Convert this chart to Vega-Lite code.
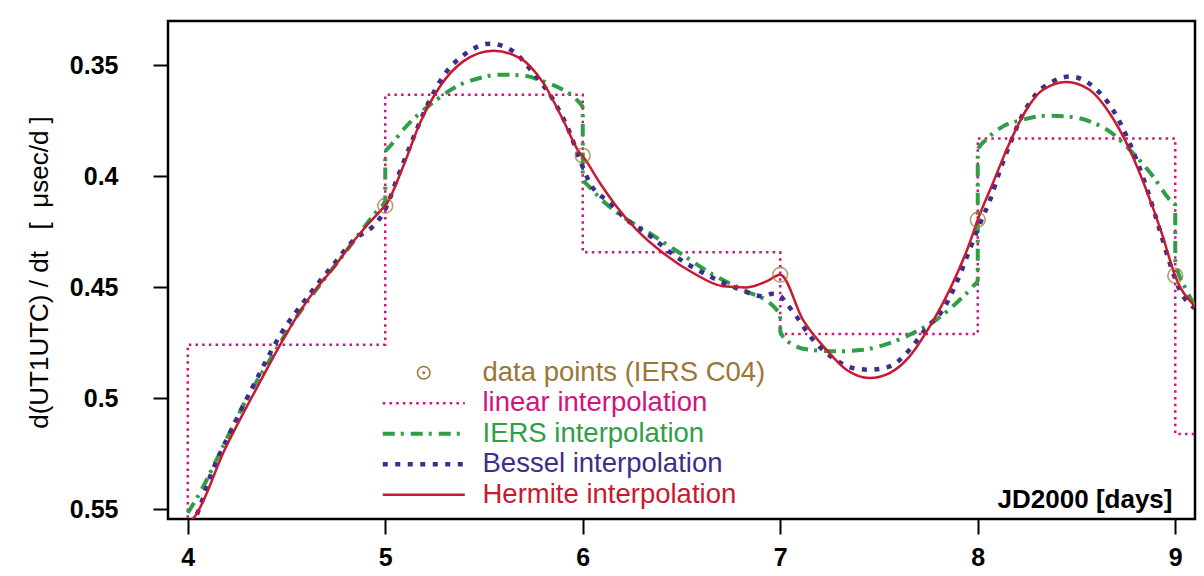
{
  "$schema": "https://vega.github.io/schema/vega-lite/v6.json",
  "autosize": {"type": "none"},
  "padding": {"left": 168, "top": 21, "right": 9, "bottom": 57},
  "width": 1027,
  "height": 498,
  "background": "white",
  "config": {
    "view": {"stroke": "black", "strokeWidth": 2.5},
    "font": "Liberation Sans"
  },
  "datasets": {
    "curves": [
      {"s": "linear interpolation", "k": 0, "t": 4, "v": 0.56},
      {"s": "linear interpolation", "k": 1, "t": 4, "v": 0.4759},
      {"s": "linear interpolation", "k": 2, "t": 5, "v": 0.4759},
      {"s": "linear interpolation", "k": 3, "t": 5, "v": 0.3632},
      {"s": "linear interpolation", "k": 4, "t": 6, "v": 0.3632},
      {"s": "linear interpolation", "k": 5, "t": 6, "v": 0.4343},
      {"s": "linear interpolation", "k": 6, "t": 7, "v": 0.4343},
      {"s": "linear interpolation", "k": 7, "t": 7, "v": 0.4711},
      {"s": "linear interpolation", "k": 8, "t": 8, "v": 0.4711},
      {"s": "linear interpolation", "k": 9, "t": 8, "v": 0.383},
      {"s": "linear interpolation", "k": 10, "t": 9, "v": 0.383},
      {"s": "linear interpolation", "k": 11, "t": 9, "v": 0.5162},
      {"s": "linear interpolation", "k": 12, "t": 9.1, "v": 0.5162},

      {"s": "IERS interpolation", "k": 0, "t": 4.0, "v": 0.5518},
      {"s": "IERS interpolation", "k": 1, "t": 4.07, "v": 0.5413},
      {"s": "IERS interpolation", "k": 2, "t": 4.17, "v": 0.5233},
      {"s": "IERS interpolation", "k": 3, "t": 4.305, "v": 0.4992},
      {"s": "IERS interpolation", "k": 4, "t": 4.406, "v": 0.4842},
      {"s": "IERS interpolation", "k": 5, "t": 4.541, "v": 0.4647},
      {"s": "IERS interpolation", "k": 6, "t": 4.676, "v": 0.4481},
      {"s": "IERS interpolation", "k": 7, "t": 4.795, "v": 0.4346},
      {"s": "IERS interpolation", "k": 8, "t": 4.896, "v": 0.4226},
      {"s": "IERS interpolation", "k": 9, "t": 4.963, "v": 0.4151},
      {"s": "IERS interpolation", "k": 10, "t": 5.0, "v": 0.411},
      {"s": "IERS interpolation", "k": 11, "t": 5.0, "v": 0.389},
      {"s": "IERS interpolation", "k": 12, "t": 5.024, "v": 0.3865},
      {"s": "IERS interpolation", "k": 13, "t": 5.091, "v": 0.379},
      {"s": "IERS interpolation", "k": 14, "t": 5.176, "v": 0.3715},
      {"s": "IERS interpolation", "k": 15, "t": 5.26, "v": 0.3655},
      {"s": "IERS interpolation", "k": 16, "t": 5.361, "v": 0.3595},
      {"s": "IERS interpolation", "k": 17, "t": 5.479, "v": 0.3557},
      {"s": "IERS interpolation", "k": 18, "t": 5.58, "v": 0.3542},
      {"s": "IERS interpolation", "k": 19, "t": 5.698, "v": 0.3546},
      {"s": "IERS interpolation", "k": 20, "t": 5.8, "v": 0.3572},
      {"s": "IERS interpolation", "k": 21, "t": 5.9, "v": 0.361},
      {"s": "IERS interpolation", "k": 22, "t": 5.969, "v": 0.3655},
      {"s": "IERS interpolation", "k": 23, "t": 6.0, "v": 0.369},
      {"s": "IERS interpolation", "k": 24, "t": 6.0, "v": 0.401},
      {"s": "IERS interpolation", "k": 25, "t": 6.036, "v": 0.405},
      {"s": "IERS interpolation", "k": 26, "t": 6.087, "v": 0.4098},
      {"s": "IERS interpolation", "k": 27, "t": 6.188, "v": 0.4173},
      {"s": "IERS interpolation", "k": 28, "t": 6.323, "v": 0.4248},
      {"s": "IERS interpolation", "k": 29, "t": 6.492, "v": 0.4346},
      {"s": "IERS interpolation", "k": 30, "t": 6.66, "v": 0.4444},
      {"s": "IERS interpolation", "k": 31, "t": 6.829, "v": 0.4519},
      {"s": "IERS interpolation", "k": 32, "t": 6.947, "v": 0.4571},
      {"s": "IERS interpolation", "k": 33, "t": 6.98, "v": 0.46},
      {"s": "IERS interpolation", "k": 34, "t": 7.0, "v": 0.4625},
      {"s": "IERS interpolation", "k": 35, "t": 7.0, "v": 0.47},
      {"s": "IERS interpolation", "k": 36, "t": 7.05, "v": 0.4752},
      {"s": "IERS interpolation", "k": 37, "t": 7.149, "v": 0.4782},
      {"s": "IERS interpolation", "k": 38, "t": 7.284, "v": 0.4789},
      {"s": "IERS interpolation", "k": 39, "t": 7.42, "v": 0.4782},
      {"s": "IERS interpolation", "k": 40, "t": 7.554, "v": 0.4752},
      {"s": "IERS interpolation", "k": 41, "t": 7.672, "v": 0.4707},
      {"s": "IERS interpolation", "k": 42, "t": 7.79, "v": 0.4647},
      {"s": "IERS interpolation", "k": 43, "t": 7.892, "v": 0.4571},
      {"s": "IERS interpolation", "k": 44, "t": 7.976, "v": 0.4496},
      {"s": "IERS interpolation", "k": 45, "t": 8.0, "v": 0.447},
      {"s": "IERS interpolation", "k": 46, "t": 8.0, "v": 0.388},
      {"s": "IERS interpolation", "k": 47, "t": 8.043, "v": 0.3835},
      {"s": "IERS interpolation", "k": 48, "t": 8.128, "v": 0.3775},
      {"s": "IERS interpolation", "k": 49, "t": 8.229, "v": 0.3745},
      {"s": "IERS interpolation", "k": 50, "t": 8.347, "v": 0.3727},
      {"s": "IERS interpolation", "k": 51, "t": 8.448, "v": 0.373},
      {"s": "IERS interpolation", "k": 52, "t": 8.566, "v": 0.3752},
      {"s": "IERS interpolation", "k": 53, "t": 8.667, "v": 0.3798},
      {"s": "IERS interpolation", "k": 54, "t": 8.785, "v": 0.3895},
      {"s": "IERS interpolation", "k": 55, "t": 8.887, "v": 0.4},
      {"s": "IERS interpolation", "k": 56, "t": 8.972, "v": 0.4106},
      {"s": "IERS interpolation", "k": 57, "t": 9.0, "v": 0.413},
      {"s": "IERS interpolation", "k": 58, "t": 9.0, "v": 0.438},
      {"s": "IERS interpolation", "k": 59, "t": 9.055, "v": 0.4511},
      {"s": "IERS interpolation", "k": 60, "t": 9.1, "v": 0.4585},

      {"s": "Bessel interpolation", "k": 0, "t": 4.0, "v": 0.556},
      {"s": "Bessel interpolation", "k": 1, "t": 4.035, "v": 0.554},
      {"s": "Bessel interpolation", "k": 2, "t": 4.12, "v": 0.5338},
      {"s": "Bessel interpolation", "k": 3, "t": 4.238, "v": 0.5112},
      {"s": "Bessel interpolation", "k": 4, "t": 4.356, "v": 0.4902},
      {"s": "Bessel interpolation", "k": 5, "t": 4.474, "v": 0.4707},
      {"s": "Bessel interpolation", "k": 6, "t": 4.609, "v": 0.4541},
      {"s": "Bessel interpolation", "k": 7, "t": 4.744, "v": 0.4391},
      {"s": "Bessel interpolation", "k": 8, "t": 4.862, "v": 0.4271},
      {"s": "Bessel interpolation", "k": 9, "t": 4.9, "v": 0.4252},
      {"s": "Bessel interpolation", "k": 10, "t": 4.96, "v": 0.4205},
      {"s": "Bessel interpolation", "k": 11, "t": 5.007, "v": 0.4136},
      {"s": "Bessel interpolation", "k": 12, "t": 5.058, "v": 0.4015},
      {"s": "Bessel interpolation", "k": 13, "t": 5.125, "v": 0.3865},
      {"s": "Bessel interpolation", "k": 14, "t": 5.21, "v": 0.3685},
      {"s": "Bessel interpolation", "k": 15, "t": 5.293, "v": 0.355},
      {"s": "Bessel interpolation", "k": 16, "t": 5.412, "v": 0.3444},
      {"s": "Bessel interpolation", "k": 17, "t": 5.53, "v": 0.3402},
      {"s": "Bessel interpolation", "k": 18, "t": 5.648, "v": 0.3437},
      {"s": "Bessel interpolation", "k": 19, "t": 5.749, "v": 0.3534},
      {"s": "Bessel interpolation", "k": 20, "t": 5.85, "v": 0.3655},
      {"s": "Bessel interpolation", "k": 21, "t": 5.935, "v": 0.3805},
      {"s": "Bessel interpolation", "k": 22, "t": 5.985, "v": 0.3925},
      {"s": "Bessel interpolation", "k": 23, "t": 6.036, "v": 0.403},
      {"s": "Bessel interpolation", "k": 24, "t": 6.137, "v": 0.412},
      {"s": "Bessel interpolation", "k": 25, "t": 6.222, "v": 0.4196},
      {"s": "Bessel interpolation", "k": 26, "t": 6.323, "v": 0.4256},
      {"s": "Bessel interpolation", "k": 27, "t": 6.458, "v": 0.4353},
      {"s": "Bessel interpolation", "k": 28, "t": 6.627, "v": 0.4444},
      {"s": "Bessel interpolation", "k": 29, "t": 6.778, "v": 0.4504},
      {"s": "Bessel interpolation", "k": 30, "t": 6.913, "v": 0.4541},
      {"s": "Bessel interpolation", "k": 31, "t": 6.96, "v": 0.453},
      {"s": "Bessel interpolation", "k": 32, "t": 7.0, "v": 0.454},
      {"s": "Bessel interpolation", "k": 33, "t": 7.03, "v": 0.4571},
      {"s": "Bessel interpolation", "k": 34, "t": 7.082, "v": 0.4632},
      {"s": "Bessel interpolation", "k": 35, "t": 7.166, "v": 0.4737},
      {"s": "Bessel interpolation", "k": 36, "t": 7.267, "v": 0.4819},
      {"s": "Bessel interpolation", "k": 37, "t": 7.368, "v": 0.4864},
      {"s": "Bessel interpolation", "k": 38, "t": 7.453, "v": 0.4872},
      {"s": "Bessel interpolation", "k": 39, "t": 7.554, "v": 0.4857},
      {"s": "Bessel interpolation", "k": 40, "t": 7.655, "v": 0.4782},
      {"s": "Bessel interpolation", "k": 41, "t": 7.74, "v": 0.4684},
      {"s": "Bessel interpolation", "k": 42, "t": 7.824, "v": 0.4601},
      {"s": "Bessel interpolation", "k": 43, "t": 7.892, "v": 0.4481},
      {"s": "Bessel interpolation", "k": 44, "t": 7.959, "v": 0.4331},
      {"s": "Bessel interpolation", "k": 45, "t": 8.013, "v": 0.421},
      {"s": "Bessel interpolation", "k": 46, "t": 8.063, "v": 0.4105},
      {"s": "Bessel interpolation", "k": 47, "t": 8.114, "v": 0.397},
      {"s": "Bessel interpolation", "k": 48, "t": 8.165, "v": 0.385},
      {"s": "Bessel interpolation", "k": 49, "t": 8.232, "v": 0.3715},
      {"s": "Bessel interpolation", "k": 50, "t": 8.3, "v": 0.3624},
      {"s": "Bessel interpolation", "k": 51, "t": 8.367, "v": 0.3579},
      {"s": "Bessel interpolation", "k": 52, "t": 8.468, "v": 0.355},
      {"s": "Bessel interpolation", "k": 53, "t": 8.583, "v": 0.3595},
      {"s": "Bessel interpolation", "k": 54, "t": 8.684, "v": 0.37},
      {"s": "Bessel interpolation", "k": 55, "t": 8.769, "v": 0.385},
      {"s": "Bessel interpolation", "k": 56, "t": 8.853, "v": 0.4046},
      {"s": "Bessel interpolation", "k": 57, "t": 8.921, "v": 0.4241},
      {"s": "Bessel interpolation", "k": 58, "t": 8.972, "v": 0.4391},
      {"s": "Bessel interpolation", "k": 59, "t": 9.022, "v": 0.4511},
      {"s": "Bessel interpolation", "k": 60, "t": 9.1, "v": 0.4595},

      {"s": "Hermite interpolation", "k": 0, "t": 4.0, "v": 0.5565},
      {"s": "Hermite interpolation", "k": 1, "t": 4.03, "v": 0.554},
      {"s": "Hermite interpolation", "k": 2, "t": 4.187, "v": 0.5233},
      {"s": "Hermite interpolation", "k": 3, "t": 4.372, "v": 0.4917},
      {"s": "Hermite interpolation", "k": 4, "t": 4.482, "v": 0.4737},
      {"s": "Hermite interpolation", "k": 5, "t": 4.609, "v": 0.4556},
      {"s": "Hermite interpolation", "k": 6, "t": 4.744, "v": 0.4406},
      {"s": "Hermite interpolation", "k": 7, "t": 4.845, "v": 0.4286},
      {"s": "Hermite interpolation", "k": 8, "t": 4.98, "v": 0.4151},
      {"s": "Hermite interpolation", "k": 9, "t": 5.0, "v": 0.4133},
      {"s": "Hermite interpolation", "k": 10, "t": 5.091, "v": 0.3955},
      {"s": "Hermite interpolation", "k": 11, "t": 5.176, "v": 0.376},
      {"s": "Hermite interpolation", "k": 12, "t": 5.277, "v": 0.3595},
      {"s": "Hermite interpolation", "k": 13, "t": 5.395, "v": 0.3482},
      {"s": "Hermite interpolation", "k": 14, "t": 5.547, "v": 0.3434},
      {"s": "Hermite interpolation", "k": 15, "t": 5.682, "v": 0.3467},
      {"s": "Hermite interpolation", "k": 16, "t": 5.8, "v": 0.3579},
      {"s": "Hermite interpolation", "k": 17, "t": 5.9, "v": 0.3745},
      {"s": "Hermite interpolation", "k": 18, "t": 5.985, "v": 0.3895},
      {"s": "Hermite interpolation", "k": 19, "t": 6.0, "v": 0.391},
      {"s": "Hermite interpolation", "k": 20, "t": 6.087, "v": 0.403},
      {"s": "Hermite interpolation", "k": 21, "t": 6.171, "v": 0.4136},
      {"s": "Hermite interpolation", "k": 22, "t": 6.272, "v": 0.4241},
      {"s": "Hermite interpolation", "k": 23, "t": 6.407, "v": 0.4346},
      {"s": "Hermite interpolation", "k": 24, "t": 6.559, "v": 0.4436},
      {"s": "Hermite interpolation", "k": 25, "t": 6.711, "v": 0.4496},
      {"s": "Hermite interpolation", "k": 26, "t": 6.829, "v": 0.4501},
      {"s": "Hermite interpolation", "k": 27, "t": 6.93, "v": 0.4474},
      {"s": "Hermite interpolation", "k": 28, "t": 7.0, "v": 0.4444},
      {"s": "Hermite interpolation", "k": 29, "t": 7.115, "v": 0.4647},
      {"s": "Hermite interpolation", "k": 30, "t": 7.234, "v": 0.4782},
      {"s": "Hermite interpolation", "k": 31, "t": 7.335, "v": 0.4872},
      {"s": "Hermite interpolation", "k": 32, "t": 7.453, "v": 0.4909},
      {"s": "Hermite interpolation", "k": 33, "t": 7.554, "v": 0.4887},
      {"s": "Hermite interpolation", "k": 34, "t": 7.655, "v": 0.4812},
      {"s": "Hermite interpolation", "k": 35, "t": 7.757, "v": 0.4677},
      {"s": "Hermite interpolation", "k": 36, "t": 7.858, "v": 0.4511},
      {"s": "Hermite interpolation", "k": 37, "t": 7.959, "v": 0.4301},
      {"s": "Hermite interpolation", "k": 38, "t": 8.0, "v": 0.4196},
      {"s": "Hermite interpolation", "k": 39, "t": 8.077, "v": 0.403},
      {"s": "Hermite interpolation", "k": 40, "t": 8.161, "v": 0.385},
      {"s": "Hermite interpolation", "k": 41, "t": 8.246, "v": 0.37},
      {"s": "Hermite interpolation", "k": 42, "t": 8.33, "v": 0.361},
      {"s": "Hermite interpolation", "k": 43, "t": 8.448, "v": 0.3575},
      {"s": "Hermite interpolation", "k": 44, "t": 8.566, "v": 0.361},
      {"s": "Hermite interpolation", "k": 45, "t": 8.667, "v": 0.3715},
      {"s": "Hermite interpolation", "k": 46, "t": 8.769, "v": 0.388},
      {"s": "Hermite interpolation", "k": 47, "t": 8.853, "v": 0.406},
      {"s": "Hermite interpolation", "k": 48, "t": 8.937, "v": 0.4271},
      {"s": "Hermite interpolation", "k": 49, "t": 9.0, "v": 0.4451},
      {"s": "Hermite interpolation", "k": 50, "t": 9.1, "v": 0.4585}
    ],
    "points": [
      {"t": 5, "v": 0.4133},
      {"t": 6, "v": 0.3907},
      {"t": 7, "v": 0.4444},
      {"t": 8, "v": 0.4196},
      {"t": 9, "v": 0.4448}
    ]
  },
  "encoding": {
    "x": {
      "field": "t",
      "type": "quantitative",
      "scale": {"domain": [3.9, 9.1], "nice": false, "zero": false},
      "axis": {
        "values": [4, 5, 6, 7, 8, 9],
        "format": "d",
        "domain": false,
        "grid": false,
        "tickSize": 15,
        "tickWidth": 2,
        "tickColor": "black",
        "labelFontSize": 25,
        "labelFontWeight": "bold",
        "labelColor": "black",
        "labelPadding": 11,
        "title": "JD2000 [days]",
        "titleFontSize": 26,
        "titleFontWeight": "bold",
        "titleColor": "black",
        "titleAlign": "right",
        "titleBaseline": "alphabetic",
        "titleX": 1004,
        "titleY": -12
      }
    },
    "y": {
      "field": "v",
      "type": "quantitative",
      "scale": {"domain": [0.33, 0.5545], "reverse": true, "nice": false, "zero": false},
      "axis": {
        "values": [0.35, 0.4, 0.45, 0.5, 0.55],
        "format": ".2~f",
        "domain": false,
        "grid": false,
        "tickSize": 15,
        "tickWidth": 2,
        "tickColor": "black",
        "labelFontSize": 25,
        "labelFontWeight": "bold",
        "labelColor": "black",
        "labelPadding": 35,
        "title": "d(UT1UTC) / dt\u00a0\u00a0\u00a0[\u00a0\u00a0μsec/d\u00a0]",
        "titleFontSize": 26,
        "titleFontWeight": "normal",
        "titleColor": "black",
        "titleAlign": "center",
        "titleBaseline": "alphabetic",
        "titleAngle": -90,
        "titleX": -121,
        "titleY": 251
      }
    },
    "order": {"field": "k", "type": "quantitative"},
    "color": {
      "field": "s",
      "type": "nominal",
      "scale": {
        "domain": ["data points (IERS C04)", "linear interpolation", "IERS interpolation", "Bessel interpolation", "Hermite interpolation"],
        "range": ["#9c7636", "#d3127f", "#2f9e47", "#3a2f8c", "#c8192f"]
      },
      "legend": {
        "orient": "none",
        "legendX": 242,
        "legendY": 338,
        "title": null,
        "padding": 0,
        "symbolSize": 400,
        "labelFont": "Liberation Sans",
        "labelFontSize": 27.5,
        "labelOffset": 45,
        "labelLimit": 500,
        "rowPadding": 1.5,
        "encode": {
          "symbols": {
            "update": {
              "shape": {"signal": "datum.value === 'data points (IERS C04)' ? 'M-0.62,0A0.62,0.62 0 1,1 0.62,0A0.62,0.62 0 1,1 -0.62,0M-0.07,0A0.07,0.07 0 1,1 0.07,0A0.07,0.07 0 1,1 -0.07,0' : 'M-4.1,0H4.1'"},
              "size": {"value": 400},
              "stroke": {"scale": "color", "field": "value"},
              "strokeDash": {"signal": "datum.value === 'linear interpolation' ? [2.5, 4.2] : datum.value === 'IERS interpolation' ? [12, 6, 3, 7] : datum.value === 'Bessel interpolation' ? [5, 7.5] : [1, 0]"},
              "strokeWidth": {"signal": "datum.value === 'data points (IERS C04)' ? 1.5 : datum.value === 'linear interpolation' ? 2.5 : datum.value === 'IERS interpolation' ? 4 : datum.value === 'Bessel interpolation' ? 4.5 : 2.5"},
              "fill": {"value": "transparent"}
            }
          },
          "labels": {
            "update": {
              "fill": {"scale": "color", "field": "value"}
            }
          }
        }
      }
    }
  },
  "layer": [
    {
      "data": {"name": "curves"},
      "transform": [{"filter": "datum.s === 'linear interpolation'"}],
      "mark": {"type": "line", "clip": true, "strokeCap": "butt", "strokeWidth": 2.5, "strokeDash": [2.5, 4.2]}
    },
    {
      "data": {"name": "curves"},
      "transform": [{"filter": "datum.s === 'IERS interpolation'"}],
      "mark": {"type": "line", "clip": true, "strokeCap": "butt", "strokeWidth": 4, "strokeDash": [12, 6, 3, 7], "interpolate": "monotone"}
    },
    {
      "data": {"name": "curves"},
      "transform": [{"filter": "datum.s === 'Bessel interpolation'"}],
      "mark": {"type": "line", "clip": true, "strokeCap": "butt", "strokeWidth": 4.5, "strokeDash": [5, 7.5], "interpolate": "monotone"}
    },
    {
      "data": {"name": "curves"},
      "transform": [{"filter": "datum.s === 'Hermite interpolation'"}],
      "mark": {"type": "line", "clip": true, "strokeWidth": 2.5, "interpolate": "monotone"}
    },
    {
      "data": {"name": "points"},
      "mark": {"type": "point", "shape": "circle", "filled": false, "size": 220, "strokeWidth": 1.6, "color": "#9c7636", "clip": true},
      "encoding": {"color": {"value": "#9c7636"}, "order": null}
    }
  ]
}
